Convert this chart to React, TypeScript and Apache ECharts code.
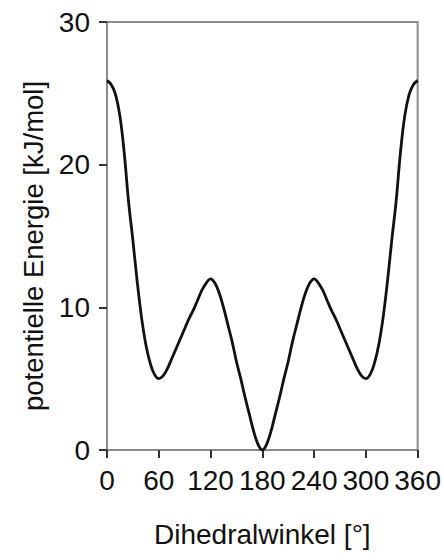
import React, { useEffect, useRef } from "react";
import * as echarts from "echarts";

const angles: number[] = [
  0, 5, 10, 15, 20, 25, 30, 35, 40, 45, 50, 55, 60, 65, 70, 75, 80, 85, 90, 95,
  100, 105, 110, 115, 120, 125, 130, 135, 140, 145, 150, 155, 160, 165, 170, 175,
  180, 185, 190, 195, 200, 205, 210, 215, 220, 225, 230, 235, 240, 245, 250, 255,
  260, 265, 270, 275, 280, 285, 290, 295, 300, 305, 310, 315, 320, 325, 330, 335,
  340, 345, 350, 355, 360,
];
const energies: number[] = [
  25.9, 25.6, 24.9, 23.4, 20.8, 17.4, 14.7, 11.8, 9.3, 7.4, 6.1, 5.3, 5.0, 5.2, 5.7, 6.4, 7.1, 7.8, 8.5, 9.2,
  9.8, 10.5, 11.2, 11.7, 12.0, 11.7, 11.0, 10.0, 8.8, 7.6, 6.2, 5.0, 3.7, 2.5, 1.3, 0.4,
  0.0, 0.4, 1.3, 2.5, 3.7, 5.0, 6.2, 7.6, 8.8, 10.0, 11.0, 11.7, 12.0, 11.7, 11.2, 10.5,
  9.8, 9.2, 8.5, 7.8, 7.1, 6.4, 5.7, 5.2, 5.0, 5.3, 6.1, 7.4, 9.3, 11.8, 14.7, 17.4,
  20.8, 23.4, 24.9, 25.6, 25.9,
];
const xTicks = { min: 0, max: 360, interval: 60 };
const yTicks = { min: 0, max: 30, interval: 10 };
const xName = "Dihedralwinkel [°]";
const yName = "potentielle Energie [kJ/mol]";

const FONT = "'Liberation Sans', Arial, sans-serif";
const AXIS_COLOR = "#8a8a8a";

export default function App() {
  const ref = useRef<HTMLDivElement>(null);
  useEffect(() => {
    if (!ref.current) return;
    const chart = echarts.init(ref.current, undefined, { renderer: "svg" });
    chart.setOption({
      animation: false,
      backgroundColor: "#ffffff",
      textStyle: { fontFamily: FONT },
      grid: {
        left: 107,
        right: 24,
        top: 22,
        bottom: 110,
        show: true,
        borderColor: AXIS_COLOR,
        borderWidth: 2,
      },
      xAxis: {
        type: "value",
        min: xTicks.min,
        max: xTicks.max,
        interval: xTicks.interval,
        name: xName,
        nameLocation: "middle",
        nameGap: 70,
        nameTextStyle: { fontSize: 28, color: "#111", fontFamily: FONT },
        axisLine: { show: true, lineStyle: { color: AXIS_COLOR, width: 2 } },
        axisTick: { show: true, length: 8, inside: false, lineStyle: { color: "#333", width: 2 } },
        axisLabel: { fontSize: 28, color: "#111", margin: 16, fontFamily: FONT },
        splitLine: { show: false },
      },
      yAxis: {
        type: "value",
        min: yTicks.min,
        max: yTicks.max,
        interval: yTicks.interval,
        name: yName,
        nameLocation: "middle",
        nameGap: 60,
        nameTextStyle: {
          fontSize: 27.5,
          color: "#111",
          fontFamily: FONT,
          padding: [0, 20, 0, 0],
        },
        axisLine: { show: true, lineStyle: { color: AXIS_COLOR, width: 2 } },
        axisTick: { show: true, length: 8, inside: false, lineStyle: { color: "#333", width: 2 } },
        axisLabel: { fontSize: 28, color: "#111", margin: 17, fontFamily: FONT },
        splitLine: { show: false },
      },
      series: [
        {
          type: "line",
          data: angles.map((a, i) => [a, energies[i]]),
          smooth: 0.4,
          showSymbol: false,
          symbol: "none",
          lineStyle: { color: "#111", width: 2.8 },
        },
      ],
    });
    return () => chart.dispose();
  }, []);
  return (
    <div
      ref={ref}
      style={{ position: "absolute", left: 0, top: 0, width: 444, height: 560 }}
    />
  );
}
